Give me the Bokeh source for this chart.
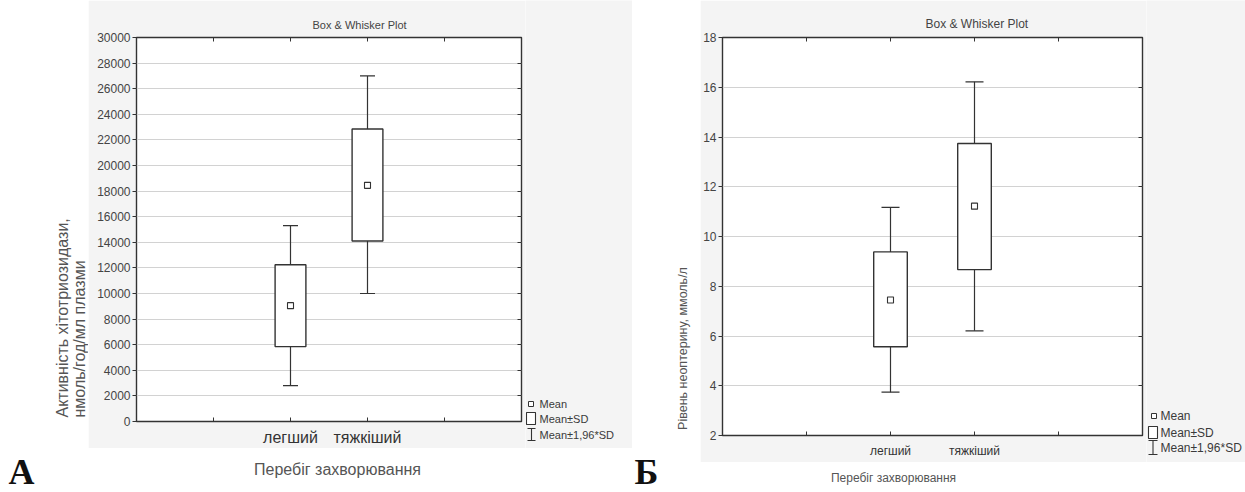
import numpy as np
from bokeh.plotting import figure
from bokeh.models import Range1d, FixedTicker, LinearAxis, ColumnDataSource
from bokeh.layouts import row, column
from bokeh.embed import file_html
from bokeh.resources import INLINE
from bokeh.core.properties import value

# ---------------- data ----------------
categories = ["легший", "тяжкіший"]
cat_pos = [2, 3]
x_ticks = [1, 2, 3, 4]

# Chart A: chitotriosidase activity
a_mean = [9050, 18450]
a_sd_lo = [5850, 14100]
a_sd_hi = [12250, 22850]
a_ci_lo = [2800, 10000]
a_ci_hi = [15300, 27000]
a_yticks = list(range(0, 30001, 2000))

# Chart B: neopterin level
b_mean = [7.45, 11.22]
b_sd_lo = [5.57, 8.67]
b_sd_hi = [9.38, 13.74]
b_ci_lo = [3.74, 6.21]
b_ci_hi = [11.17, 16.22]
b_yticks = list(range(2, 19, 2))

legend_texts = ["Mean", "Mean±SD", "Mean±1,96*SD"]
title_text = "Box & Whisker Plot"
x_title = "Перебіг захворювання"
a_ylabel = ["Активність хітотриозидази,", "нмоль/год/мл плазми"]
b_ylabel = "Рівень неоптерину, ммоль/л"

PANEL = "#f4f4f4"
LINE = "#333333"
GRID = "#d2d2d2"
TXT = "#444444"
FONT = "Liberation Sans"


def no_align(f):
    if "frame_align" in f.properties():
        f.frame_align = False


def text_fig(ox, oy, w, h, bg):
    f = figure(width=w, height=h, x_range=Range1d(0, w), y_range=Range1d(0, h),
               output_backend="svg", toolbar_location=None,
               x_axis_type=None, y_axis_type=None, min_border=0)
    no_align(f)
    f.background_fill_color = bg
    f.border_fill_color = bg
    f.outline_line_color = None

    def cx(rx):
        return rx - ox

    def cy(ry):
        return oy + h - ry
    return f, cx, cy


def put_text(f, cx, cy, text, rx, ry, size, align="center", base="middle", color=TXT,
             angle=0, font=FONT, style="normal"):
    f.text(x=[cx(rx)], y=[cy(ry)], text=[text], text_font=value(font),
           text_font_size=f"{size}px", text_color=color, text_align=align,
           text_baseline=base, angle=angle, text_font_style=style)


def chart(cfg):
    ox, oy, w, h = cfg["box"]
    fl, fr, ft, fb = cfg["frame"]
    p = figure(width=w, height=h, x_range=Range1d(0, 5), y_range=Range1d(*cfg["yr"]),
               output_backend="svg", toolbar_location=None,
               min_border_left=fl - ox, min_border_right=ox + w - fr,
               min_border_top=ft - oy, min_border_bottom=oy + h - fb,
               title=title_text)
    no_align(p)
    p.border_fill_color = PANEL
    p.background_fill_color = "white"
    p.outline_line_color = LINE
    p.outline_line_width = 1.4

    p.title.align = "left"
    p.title.offset = cfg["toff"]
    p.title.text_font = FONT
    p.title.text_font_size = f"{cfg['tsize']}px"
    p.title.text_font_style = "normal"
    p.title.text_color = TXT
    p.title.standoff = cfg["tstand"]

    xa = p.xaxis[0]
    xa.ticker = FixedTicker(ticks=x_ticks)
    xa.major_label_overrides = {1: "", 2: categories[0], 3: categories[1], 4: ""}
    xa.major_tick_in = 4
    xa.major_tick_out = 0
    xa.minor_tick_line_color = None
    xa.axis_line_color = None
    xa.major_tick_line_color = LINE
    xa.major_label_standoff = cfg["xstand"]
    xa.major_label_text_font = FONT
    xa.major_label_text_font_size = f"{cfg['catsize']}px"
    xa.major_label_text_color = "#333333"

    ya = p.yaxis[0]
    ya.ticker = FixedTicker(ticks=cfg["yticks"])
    ya.major_tick_in = 0
    ya.major_tick_out = 4
    ya.minor_tick_line_color = None
    ya.axis_line_color = None
    ya.major_tick_line_color = LINE
    ya.major_label_standoff = 2
    ya.major_label_text_font = FONT
    ya.major_label_text_font_size = f"{cfg['ticksize']}px"
    ya.major_label_text_color = TXT

    top = LinearAxis(ticker=FixedTicker(ticks=x_ticks), major_tick_in=4, major_tick_out=0,
                     axis_line_color=None, minor_tick_line_color=None,
                     major_tick_line_color=LINE, major_label_text_font_size="1px",
                     major_label_overrides={t: "" for t in x_ticks},
                     major_label_standoff=0)
    p.add_layout(top, "above")
    right = LinearAxis(ticker=FixedTicker(ticks=cfg["yticks"]), major_tick_in=4, major_tick_out=0,
                       axis_line_color=None, minor_tick_line_color=None,
                       major_tick_line_color=LINE, major_label_text_font_size="1px",
                       major_label_overrides={t: "" for t in cfg["yticks"]},
                       major_label_standoff=0)
    p.add_layout(right, "right")

    p.xgrid.visible = False
    p.ygrid.ticker = FixedTicker(ticks=cfg["yticks"])
    p.ygrid.grid_line_color = GRID
    p.ygrid.grid_line_width = 1.2

    src = ColumnDataSource(dict(x=cat_pos, mean=cfg["mean"], sdlo=cfg["sdlo"], sdhi=cfg["sdhi"],
                                cilo=cfg["cilo"], cihi=cfg["cihi"]))
    p.segment(x0="x", y0="cilo", x1="x", y1="sdlo", source=src, line_color=LINE, line_width=1.2)
    p.segment(x0="x", y0="sdhi", x1="x", y1="cihi", source=src, line_color=LINE, line_width=1.2)
    p.scatter(x="x", y="cilo", source=src, marker="dash", size=cfg["cap"], line_color=LINE, line_width=1.2)
    p.scatter(x="x", y="cihi", source=src, marker="dash", size=cfg["cap"], line_color=LINE, line_width=1.2)
    p.vbar(x="x", width=0.4, bottom="sdlo", top="sdhi", source=src, fill_color="white",
           line_color=LINE, line_width=1.4)
    p.scatter(x="x", y="mean", source=src, marker="square", size=6, fill_color="white",
              line_color=LINE, line_width=1.1)
    return p


def legend_fig(cfg):
    ox, oy, w, h = cfg["box"]
    f, cx, cy = text_fig(ox, oy, w, h, PANEL)
    (mx0, my0, mx1, my1) = cfg["mean"]
    f.rect(x=[cx((mx0 + mx1) / 2)], y=[cy((my0 + my1) / 2)], width=mx1 - mx0, height=my1 - my0,
           fill_color="white", line_color=LINE, line_width=1)
    (bx0, by0, bx1, by1) = cfg["sd"]
    f.rect(x=[cx((bx0 + bx1) / 2)], y=[cy((by0 + by1) / 2)], width=bx1 - bx0, height=by1 - by0,
           fill_color="white", line_color=LINE, line_width=1.1)
    (ix0, iy0, ix1, iy1) = cfg["ibeam"]
    xm = (ix0 + ix1) / 2
    f.segment(x0=[cx(xm), cx(ix0), cx(ix0)], y0=[cy(iy0), cy(iy0), cy(iy1)],
              x1=[cx(xm), cx(ix1), cx(ix1)], y1=[cy(iy1), cy(iy0), cy(iy1)],
              line_color=LINE, line_width=1.1)
    for t, ry in zip(legend_texts, cfg["rows"]):
        put_text(f, cx, cy, t, cfg["tx"], ry, cfg["size"], align="left", color="#3a3a3a")
    return f


LETTER_SIZE = 36

# ---------------- left half (A) ----------------
ylA, cxA, cyA = text_fig(0, 0, 88, 448, "white")
put_text(ylA, cxA, cyA, a_ylabel[0], 62, 417, 16, align="left", angle=np.pi / 2, color="#555555")
put_text(ylA, cxA, cyA, a_ylabel[1], 79, 417, 16, align="left", angle=np.pi / 2, color="#555555")

chA = chart(dict(box=(88, 0, 437, 448), frame=(136, 521, 37, 422), yr=(0, 30000), yticks=a_yticks,
                 xstand=7, catsize=16, ticksize=12, cap=15, toff=176, tsize=11, tstand=13,
                 mean=a_mean, sdlo=a_sd_lo, sdhi=a_sd_hi, cilo=a_ci_lo, cihi=a_ci_hi))

lgA = legend_fig(dict(box=(525, 0, 107, 448), mean=(528, 401, 533, 406), sd=(526, 412, 535, 424),
                      ibeam=(527, 428, 535, 440), rows=[403, 418, 434], tx=539, size=11))

btA, cxbA, cybA = text_fig(0, 448, 632, 44, "white")
put_text(btA, cxbA, cybA, x_title, 337, 469, 16, color="#555555")
put_text(btA, cxbA, cybA, "А", 8, 471, LETTER_SIZE, align="left", base="middle", color="#111111",
         font="Liberation Serif", style="bold")

# ---------------- right half (Б) ----------------
ylB, cxB, cyB = text_fig(632, 0, 68, 448, "white")
put_text(ylB, cxB, cyB, b_ylabel, 682, 348, 12.5, align="center", angle=np.pi / 2, color="#555555")

ltB, cxlB, cylB = text_fig(632, 448, 68, 44, "white")
put_text(ltB, cxlB, cylB, "Б", 634, 471, LETTER_SIZE, align="left", base="middle", color="#111111",
         font="Liberation Serif", style="bold")

chB = chart(dict(box=(700, 0, 446, 462), frame=(722, 1142, 37, 435), yr=(2, 18), yticks=b_yticks,
                 xstand=8, catsize=12, ticksize=12, cap=18, toff=203, tsize=12, tstand=14,
                 mean=b_mean, sdlo=b_sd_lo, sdhi=b_sd_hi, cilo=b_ci_lo, cihi=b_ci_hi))

lgB = legend_fig(dict(box=(1146, 0, 99, 462), mean=(1151, 413, 1156, 418), sd=(1148, 426, 1157, 438),
                      ibeam=(1148, 440, 1157, 454), rows=[415, 432, 447], tx=1160, size=12))

btB, cxbB, cybB = text_fig(700, 462, 545, 30, "white")
put_text(btB, cxbB, cybB, x_title, 893, 477, 12, color="#555555")

layout = row(
    column(row(ylA, chA, lgA), btA),
    column(ylB, ltB),
    column(row(chB, lgB), btB),
)

open("out.html", "w").write(file_html(layout, INLINE))
